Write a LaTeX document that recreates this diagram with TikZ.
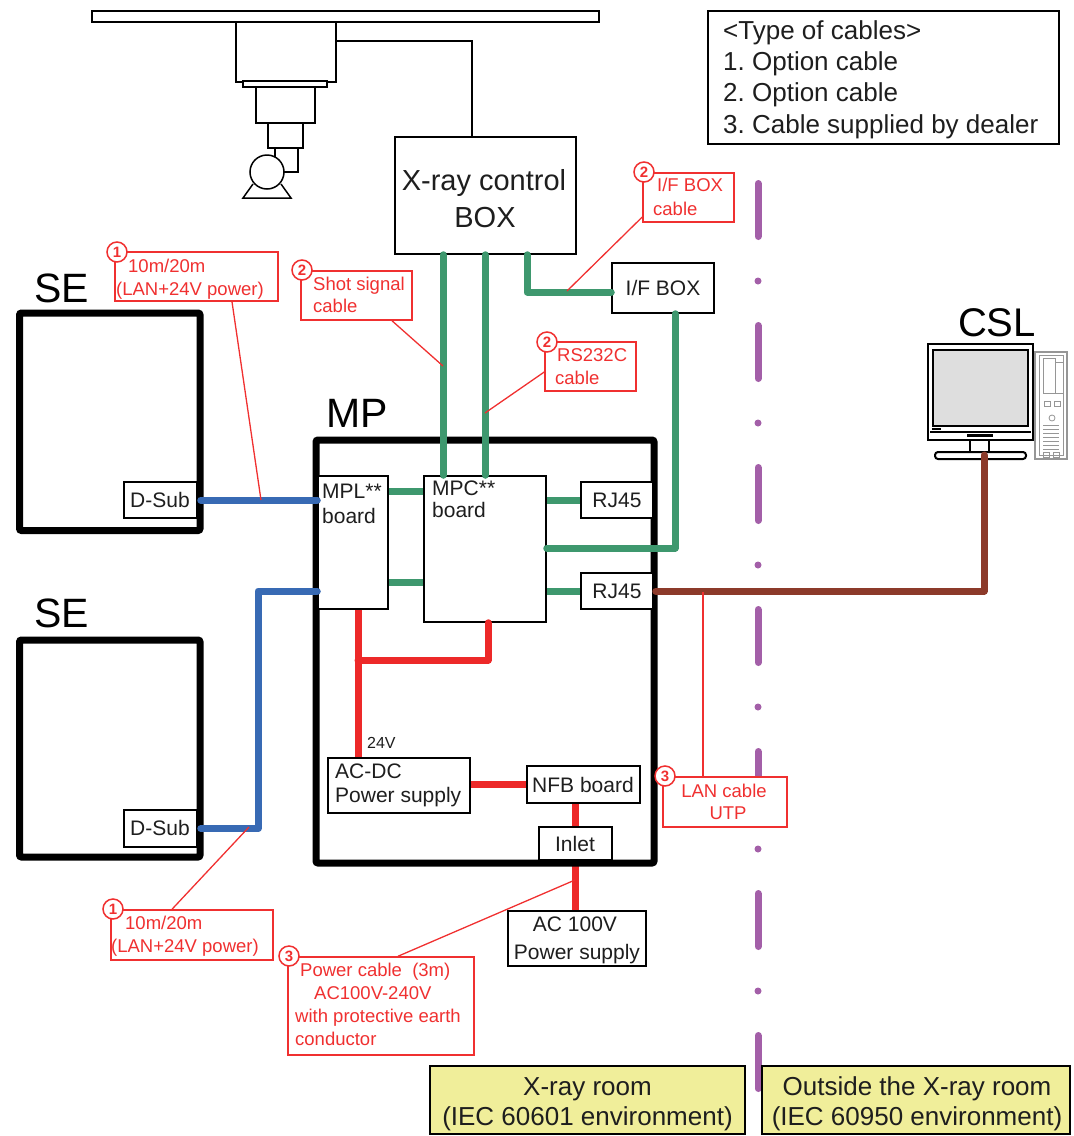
\documentclass[tikz,border=0pt]{standalone}
\usepackage{fontspec}
\setmainfont{Liberation Sans}
\frenchspacing
\newcommand\fsz[2]{\fontsize{#1pt}{#2pt}\selectfont}
\definecolor{cgreen}{RGB}{62,152,110}
\definecolor{cblue}{RGB}{56,106,180}
\definecolor{cred}{RGB}{237,41,41}
\definecolor{cbrown}{RGB}{140,58,42}
\definecolor{cpurple}{RGB}{163,95,168}
\definecolor{lred}{RGB}{240,48,48}
\definecolor{cyellow}{RGB}{240,238,154}
\definecolor{ink}{RGB}{30,30,30}
\definecolor{screen}{RGB}{222,222,222}
\definecolor{towergray}{RGB}{150,150,150}
\begin{document}
\begin{tikzpicture}[x=1pt,y=-1pt,
  box/.style={draw=black, line width=1.5pt, fill=white, inner sep=0pt},
  heavybox/.style={draw=black, line width=7pt, inner sep=0pt, rounded corners=2pt},
  lbl/.style={draw=lred, line width=1.5pt, fill=white, inner sep=0pt},
  ltext/.style={text=lred, font=\fsz{18.5}{22}, inner sep=0pt, anchor=base west},
  ctext/.style={text=lred, font=\fsz{18.5}{22}, inner sep=0pt, anchor=base},
  num/.style={circle, draw=lred, fill=white, line width=1.5pt, minimum size=20pt,
    inner sep=0pt, text=lred, font=\fsz{15}{15}\bfseries},
  lead/.style={draw=lred, line width=1.3pt},
  btext/.style={text=ink, font=\fsz{21}{25}, inner sep=0pt, anchor=base west},
  bctext/.style={text=ink, font=\fsz{21}{25}, inner sep=0pt, anchor=base},
  title/.style={text=black, font=\fsz{41}{41}, inner sep=0pt},
  gcable/.style={draw=cgreen, line width=7pt, line join=round},
  bcable/.style={draw=cblue, line width=7pt, line join=round},
  rcable/.style={draw=cred, line width=7pt, line join=round},
  ncable/.style={draw=cbrown, line width=7pt, line join=round},
  divider/.style={draw=cpurple, line width=7pt, line cap=round,
    dash pattern=on 53pt off 44.5pt on 0pt off 44.5pt},
  dev/.style={draw=black, line width=1.5pt, fill=white},
  legendtext/.style={text=ink, font=\fsz{26}{30}, inner sep=0pt, anchor=base west},
  roomtext/.style={text=ink, font=\fsz{26}{30}, inner sep=0pt, anchor=base},
  roombox/.style={draw=black, line width=1.5pt, fill=cyellow, inner sep=0pt}
]
\useasboundingbox (0,0) rectangle (1074,1136);

% room divider (dash-dot)
\coordinate (divtop) at (758,183.5);
\coordinate (divbot) at (758,1090);
\draw[divider] (divtop) -- (divbot);

% ceiling-mounted X-ray unit
\draw[dev] (92,11) rectangle (599,22);
\node[dev, inner sep=0pt, minimum width=100, minimum height=60] (unit) at (286,52) {};
\draw[dev] (243,81) rectangle (327,87);
\draw[dev] (256,87) rectangle (315,123);
\draw[dev] (268,123) rectangle (303,148);
\draw[line width=1.5pt] (275,148) -- (275,158) (298,148) -- (298,172) -- (283,172);
\draw[dev] (253,184) -- (243,198) -- (291,198) -- (281,184);
\draw[dev] (267,172) circle (17);

% X-ray control box and I/F box
\node[box, minimum width=181, minimum height=117] (xbox) at (485.5,195.5) {};
\node[text=ink, font=\fsz{29}{35}, inner sep=0pt, anchor=base] (xt1) at (484,190.5) {X-ray control};
\node[text=ink, font=\fsz{29}{35}, inner sep=0pt, anchor=base] (xt2) at (485,227) {BOX};
\draw[line width=1.5pt] (unit.east |- 0,41) -| (xbox.north -| 472,0);

\node[box, minimum width=102, minimum height=50] (ifbox) at (663,288) {};
\node[bctext] (ift) at (663,295.5) {I/F BOX};

% mains feed to the panel
\node[box, minimum width=138, minimum height=55] (ac100) at (577,938.5) {};
\node[bctext] (ac1) at (575,931) {AC 100V};
\node[bctext] (ac2) at (577,959) {Power supply};

% SE units
\node[heavybox, minimum width=180.5, minimum height=217.5] (se1) at (109.75,421.75) {};
\node[heavybox, minimum width=180.5, minimum height=217] (se2) at (109.75,748.5) {};
\node[title] (se1t) at (61.5,288) {SE};
\node[title] (se2t) at (61.5,613) {SE};
\node[box, minimum width=73, minimum height=36] (dsub1) at (160.5,500) {};
\node[bctext] (ds1t) at (160,507) {D-Sub};
\node[box, minimum width=73, minimum height=37] (dsub2) at (160.5,828.5) {};
\node[bctext] (ds2t) at (160,835) {D-Sub};

% MP panel
\draw[rcable] (575,866) -- (ac100.north -| 575,0);
\node[heavybox, minimum width=338, minimum height=423] (mp) at (485,651.5) {};
\node[title] (mpt) at (357,413) {MP};

\node[box, minimum width=70, minimum height=133] (mpl) at (353,542.5) {};
\node[btext] (mpl1) at (322,498) {MPL**};
\node[btext] (mpl2) at (322,523.5) {board};
\node[box, minimum width=122, minimum height=146] (mpc) at (485,549) {};
\node[btext] (mpc1) at (432,495) {MPC**};
\node[btext] (mpc2) at (432,517.5) {board};
\node[box, minimum width=72, minimum height=36] (rj1) at (617,500) {};
\node[bctext] (rj1t) at (617,507) {RJ45};
\node[box, minimum width=72, minimum height=36] (rj2) at (617,591) {};
\node[bctext] (rj2t) at (617,598) {RJ45};
\node[box, minimum width=142, minimum height=55] (acdc) at (399,785.5) {};
\node[btext] (acdc1) at (335,778) {AC-DC};
\node[btext] (acdc2) at (335,802) {Power supply};
\node[text=ink, font=\fsz{16}{18}, inner sep=0pt, anchor=base west] (v24) at (367,748) {24V};
\node[box, minimum width=113, minimum height=37] (nfb) at (583.5,784.5) {};
\node[bctext] (nfbt) at (583,792) {NFB board};
\node[box, minimum width=73, minimum height=33] (inlet) at (575.5,843.5) {};
\node[bctext] (inlt) at (575,851) {Inlet};

% signal cables
\draw[gcable, line cap=round] (xbox.south -| 443,0) -- (mpc.north -| 443,0);
\draw[gcable, line cap=round] (xbox.south -| 485,0) -- (mpc.north -| 485,0);
\draw[gcable, line cap=round] (xbox.south -| 527,0) |- (ifbox.west |- 0,292);
\draw[gcable, line cap=round] (ifbox.south -| 675,0) |- (mpc.east |- 0,548);
\draw[gcable] (mpl.east |- 0,491) -- (mpc.west |- 0,491);
\draw[gcable] (mpl.east |- 0,582) -- (mpc.west |- 0,582);
\draw[gcable] (mpc.east |- 0,500) -- (rj1.west);
\draw[gcable] (mpc.east |- 0,591) -- (rj2.west);

% SE cables
\draw[bcable, line cap=round] ([xshift=3pt]dsub1.east) -- (mpl.west |- 0,500);
\draw[bcable, line cap=round] ([xshift=3pt]dsub2.east) -| (258,591) -- (mpl.west |- 0,591);

% power wiring
\draw[rcable] (mpl.south -| 358,0) -- (acdc.north -| 358,0);
\draw[rcable, line cap=round] (358,660) -| (mpc.south -| 488,0);
\draw[rcable] (acdc.east |- 0,784) -- (nfb.west |- 0,784);
\draw[rcable] (nfb.south -| 575,0) -- (inlet.north -| 575,0);

% CSL workstation
\node[title, font=\fsz{40}{40}] (cslt) at (997,323) {CSL};
\draw[line width=1.2pt, draw=towergray, fill=white] (1035,352) rectangle (1067,459);
\draw[line width=0.8pt, draw=towergray] (1039,355) rectangle (1063,455);
\draw[line width=0.8pt, draw=towergray] (1043,358) rectangle (1055,393) (1055,362) rectangle (1063,393);
\draw[line width=0.8pt, draw=towergray] (1044,401) rectangle (1050,406) (1054,401) rectangle (1060,406);
\draw[line width=0.8pt, draw=towergray] (1052,418) circle (3);
\foreach \yy in {425,429,...,449} \draw[line width=0.8pt, draw=towergray] (1043,\yy) -- (1059,\yy);
\draw[line width=0.8pt, draw=towergray] (1043,452) rectangle (1049,457) (1053,452) rectangle (1059,457);
\draw[line width=2.5pt, fill=white] (928,344) rectangle (1033,440);
\draw[line width=1.5pt, fill=screen] (933,350) rectangle (1028,426);
\draw[line width=1.2pt] (930,432) -- (1031,432);
\fill (967,434) rectangle (993,437);
\fill (932,427.5) rectangle (941,429.5);
\draw[line width=1.5pt] (970,441) -- (970,453) (989,441) -- (989,453);
\draw[line width=2pt, fill=white, rounded corners=3pt] (935,452) rectangle (1026,459);
\coordinate (cslin) at (984,455);
\draw[ncable, line cap=round] ([xshift=2pt]rj2.east) -| (cslin);

% cable labels
\node[lbl, minimum width=163, minimum height=49] (lA) at (196.5,276.5) {};
\node[ltext] (tA1) at (128,272.5) {10m/20m};
\node[ltext] (tA2) at (116,295.5) {(LAN+24V power)};
\node[num] (nA) at (117,252) {1};
\coordinate (pA) at (261,500);
\draw[lead] (lA.south -| 232,0) -- (pA);

\node[lbl, minimum width=111, minimum height=49] (lB) at (356.5,295.5) {};
\node[ltext] (tB1) at (313,290.5) {Shot signal};
\node[ltext] (tB2) at (313,312.5) {cable};
\node[num] (nB) at (302,270) {2};
\coordinate (pB) at (443,366);
\draw[lead] (lB.south -| 392,0) -- (pB);

\node[lbl, minimum width=91, minimum height=49] (lC) at (590.5,366.5) {};
\node[ltext] (tC1) at (557,361.5) {RS232C};
\node[ltext] (tC2) at (555,384.5) {cable};
\node[num] (nC) at (547,342) {2};
\coordinate (pC) at (485,413);
\draw[lead] (lC.west |- 0,372) -- (pC);

\node[lbl, minimum width=91, minimum height=49] (lD) at (688.5,197.5) {};
\node[ltext] (tD1) at (657,191.5) {I/F BOX};
\node[ltext] (tD2) at (653,215.5) {cable};
\node[num] (nD) at (644,172) {2};
\coordinate (pD) at (567,291);
\draw[lead] (lD.west |- 0,217) -- (pD);

\coordinate (pE) at (703,592);
\draw[lead] (703,777) -- (pE);
\node[lbl, minimum width=124, minimum height=50] (lE) at (725,802) {};
\node[ctext] (tE1) at (724,797.5) {LAN cable};
\node[ctext] (tE2) at (728,819.5) {UTP};
\node[num] (nE) at (665,776) {3};

\node[lbl, minimum width=162, minimum height=50] (lF) at (192,935) {};
\node[ltext] (tF1) at (125,929.5) {10m/20m};
\node[ltext] (tF2) at (111,952.5) {(LAN+24V power)};
\node[num] (nF) at (113,909) {1};
\coordinate (pF) at (249,827);
\draw[lead] (lF.north -| 172,0) -- (pF);

\node[lbl, minimum width=186, minimum height=98] (lG) at (381,1006) {};
\node[ltext] (tG1) at (300,976.5) {Power cable\ \ (3m)};
\node[ltext] (tG2) at (314,999.5) {AC100V-240V};
\node[ltext] (tG3) at (295,1022.5) {with protective earth};
\node[ltext] (tG4) at (295,1045.5) {conductor};
\node[num] (nG) at (289,956) {3};
\coordinate (pG) at (575,880);
\draw[lead] (lG.north -| 398,0) -- (pG);

% legend
\node[box, minimum width=351, minimum height=133] (legend) at (883.5,77.5) {};
\node[legendtext] (lg1) at (723,39.5) {<Type of cables>};
\node[legendtext] (lg2) at (723,70.5) {1. Option cable};
\node[legendtext] (lg3) at (723,101.5) {2. Option cable};
\node[legendtext] (lg4) at (723,133) {3. Cable supplied by dealer};

% room captions
\node[roombox, minimum width=315, minimum height=68] (room1) at (587.5,1100) {};
\node[roomtext] (r1a) at (587.5,1095.5) {X-ray room};
\node[roomtext] (r1b) at (587.5,1125.5) {(IEC 60601 environment)};
\node[roombox, minimum width=308, minimum height=68] (room2) at (916,1100) {};
\node[roomtext] (r2a) at (917,1095.5) {Outside the X-ray room};
\node[roomtext] (r2b) at (917,1125.5) {(IEC 60950 environment)};
\end{tikzpicture}
\end{document}
